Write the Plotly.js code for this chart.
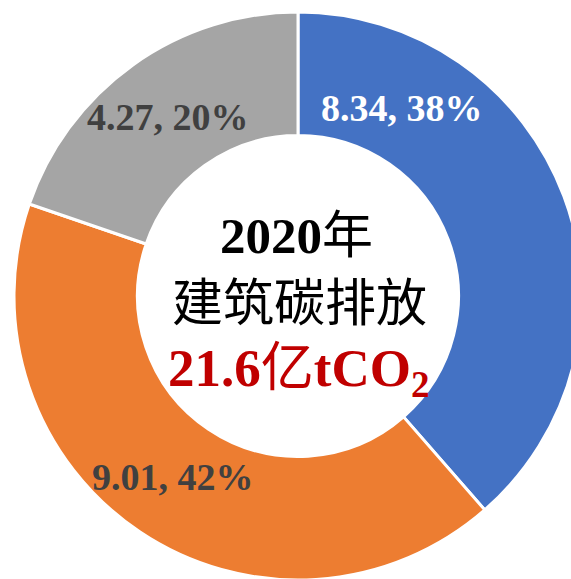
<!DOCTYPE html>
<html>
<head>
<meta charset="utf-8">
<script src="https://cdn.plot.ly/plotly-3.0.1.min.js"></script>
<style>
html,body{margin:0;padding:0;width:571px;height:579px;overflow:hidden;background:#fff;}
#chart{position:absolute;left:0;top:0;width:600px;height:600px;}
</style>
</head>
<body>
<div id="chart"></div>
<script>
// Data
const categories = ["公共建筑", "城镇居住建筑", "农村居住建筑"];
const values = [8.34, 9.01, 4.27];
const percentLabels = ["38%", "42%", "20%"];
const colors = ["#4472C4", "#ED7D31", "#A5A5A5"];
const labelColors = ["#FFFFFF", "#404040", "#404040"];
const centerYear = "2020";
const centerTitle = "建筑碳排放";
const centerTotal = "21.6";

const W = 600, H = 600;
const px = x => x / W;
const py = y => 1 - y / H;

const serif = "Liberation Serif, Times New Roman, Noto Sans CJK SC, serif";
const cjk = "Noto Sans CJK SC, sans-serif";

const labelPos = [[402, 108], [173, 477], [168, 117]];

const annotations = values.map((v, i) => ({
  text: v.toFixed(2) + ", " + percentLabels[i],
  x: px(labelPos[i][0]), y: py(labelPos[i][1]),
  xref: "paper", yref: "paper", showarrow: false,
  xanchor: "center", yanchor: "middle",
  font: {family: serif, size: 38, color: labelColors[i], weight: "bold"}
}));

annotations.push({
  text: "<b>" + centerYear + "</b>年",
  x: px(296), y: py(236), xref: "paper", yref: "paper", showarrow: false,
  xanchor: "center", yanchor: "middle",
  font: {family: serif, size: 51, color: "#000000"}
});
annotations.push({
  text: centerTitle,
  x: px(299), y: py(299), xref: "paper", yref: "paper", showarrow: false,
  xanchor: "center", yanchor: "middle",
  font: {family: cjk, size: 51, color: "#000000"}
});
annotations.push({
  text: "<b>" + centerTotal + "</b>亿<b>tCO<sub>2</sub></b>",
  x: px(298), y: py(372), xref: "paper", yref: "paper", showarrow: false,
  xanchor: "center", yanchor: "middle",
  font: {family: serif, size: 53, color: "#C00000"}
});

const trace = {
  type: "pie",
  labels: categories,
  values: values,
  sort: false,
  direction: "clockwise",
  rotation: 0,
  hole: 0.565,
  textinfo: "none",
  hoverinfo: "none",
  marker: {colors: colors, line: {color: "#FFFFFF", width: 3}},
  domain: {x: [14 / W, 582 / W], y: [1 - 580 / H, 1 - 12 / H]},
  showlegend: false
};

const layout = {
  width: W, height: H,
  margin: {l: 0, r: 0, t: 0, b: 0, pad: 0},
  paper_bgcolor: "#FFFFFF",
  plot_bgcolor: "#FFFFFF",
  showlegend: false,
  annotations: annotations
};

Plotly.newPlot("chart", [trace], layout, {displayModeBar: false, staticPlot: true});
</script>
</body>
</html>
